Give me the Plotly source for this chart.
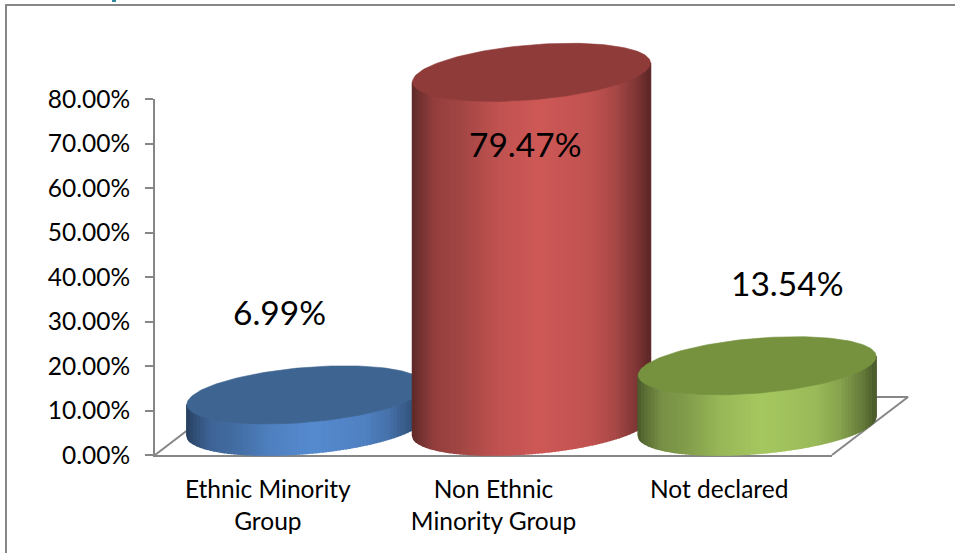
import numpy as np
import plotly.graph_objects as go

categories = ["Ethnic Minority<br>Group", "Non Ethnic<br>Minority Group", "Not declared"]
values = [6.99, 79.47, 13.54]
value_labels = ["6.99%", "79.47%", "13.54%"]
y_ticks = [0, 10, 20, 30, 40, 50, 60, 70, 80]
y_tick_labels = ["0.00%", "10.00%", "20.00%", "30.00%", "40.00%", "50.00%", "60.00%", "70.00%", "80.00%"]

W, H = 955, 553
FONT = "Lato"
GREY = "#868686"
X0, X1, Y0, Y1 = 155, 832, 455, 99
px_x = (X1 - X0) / 3
px_y = (Y0 - Y1) / 80
xc0 = X0 + px_x / 2

bright = [(86, 139, 208), (207, 89, 87), (166, 200, 96)]
top_col = ["#3e6491", "#8e3b39", "#76923f"]
stops_u = [0, 0.03, 0.10, 0.20, 0.35, 0.53, 0.75, 0.85, 0.95, 1]
stops_f = [0.45, 0.55, 0.72, 0.78, 0.92, 1.0, 0.93, 0.82, 0.60, 0.45]

dx = 38 / px_x
dy = 29 / px_y
half = 119 / px_x
shear = 9.5 / px_y
depth = 27.5 / px_y


def xrange2():
    return [(0 - xc0) / px_x, (W - xc0) / px_x]


def yrange2():
    return [(Y0 - H) / px_y, Y0 / px_y]


fig = go.Figure()
# anchor trace for the visible axes
fig.add_trace(go.Scatter(x=[0, 1, 2], y=values, mode="markers", marker=dict(opacity=0),
                         hoverinfo="skip", showlegend=False))

# floor
fx = [-0.5, -0.5 + 2 * dx, 2.5 + 2 * dx, 2.5]
fy = [0, 2 * dy, 2 * dy, 0]
fig.add_trace(go.Scatter(x=fx, y=fy, xaxis="x2", yaxis="y2", mode="lines",
                         line=dict(color=GREY, width=2), hoverinfo="skip", showlegend=False))


def cyl(i, v):
    cx = i + dx
    edges = np.linspace(-1, 1, 71)
    f = lambda u: np.sqrt(np.clip(1 - u * u, 0, 1))
    for a, b in zip(edges[:-1], edges[1:]):
        m = (a + b) / 2
        k = np.interp((m + 1) / 2, stops_u, stops_f)
        c = "rgb(%d,%d,%d)" % tuple(int(k * q) for q in bright[i])
        ua = np.linspace(a, b, 4)
        xs = cx + half * ua
        yt = v + dy + shear * ua - depth * f(ua)
        yb = dy + shear * ua - depth * f(ua)
        fig.add_trace(go.Scatter(
            x=list(xs) + list(xs[::-1]) + [xs[0]], y=list(yt) + list(yb[::-1]) + [yt[0]],
            xaxis="x2", yaxis="y2", mode="lines", fill="toself", fillcolor=c,
            line=dict(color=c, width=1.5), hoverinfo="skip", showlegend=False))
    t = np.linspace(0, 2 * np.pi, 181)
    fig.add_trace(go.Scatter(
        x=cx + half * np.cos(t), y=v + dy + shear * np.cos(t) + depth * np.sin(t),
        xaxis="x2", yaxis="y2", mode="lines", fill="toself", fillcolor=top_col[i],
        line=dict(color=top_col[i], width=0.6), hoverinfo="skip", showlegend=False))


for i in [0, 1, 2]:
    cyl(i, values[i])

label_x = [12 / px_x, 1 + 31 / px_x, 2 + 68 / px_x]
label_y = [32.2, 70.0, 38.6]
anns = [dict(x=x, y=y, xref="x2", yref="y2", text=t, showarrow=False,
             font=dict(family=FONT, size=33.5, color="black"))
        for x, y, t in zip(label_x, label_y, value_labels)]

fig.update_layout(
    width=W, height=H, autosize=False, margin=dict(l=0, r=0, t=0, b=0, autoexpand=False),
    paper_bgcolor="white", plot_bgcolor="rgba(0,0,0,0)", showlegend=False,
    font=dict(family=FONT, color="black"),
    xaxis=dict(domain=[X0 / W, X1 / W], range=[-0.5, 2.5], tickvals=[0, 1, 2], ticktext=categories,
               showgrid=False, zeroline=False, showline=True, linecolor=GREY, linewidth=2,
               ticks="", tickfont=dict(family=FONT, size=24.5, color="black"),
               ticklabelstandoff=12, anchor="y"),
    yaxis=dict(domain=[(H - Y0) / H, (H - Y1) / H], range=[0, 80], tickvals=y_ticks, ticktext=y_tick_labels,
               showgrid=False, zeroline=False, showline=True, linecolor=GREY, linewidth=2,
               ticks="outside", ticklen=8, tickwidth=2, tickcolor=GREY,
               tickfont=dict(family=FONT, size=24.5, color="black"),
               ticklabelstandoff=10, anchor="x"),
    xaxis2=dict(domain=[0, 1], range=xrange2(), visible=False, anchor="y2"),
    yaxis2=dict(domain=[0, 1], range=yrange2(), visible=False, anchor="x2"),
    annotations=anns,
    shapes=[dict(type="path", xref="paper", yref="paper",
                 path=f"M {6/W} 0 L {6/W} {(H-5)/H} L 1 {(H-5)/H}",
                 line=dict(color=GREY, width=2)),
            # sliver of the cropped heading that shows above the frame
            dict(type="rect", xref="paper", yref="paper", x0=112 / W, x1=116 / W,
                 y0=(H - 2) / H, y1=1, fillcolor="#31859c", line=dict(width=0))],
)
fig.write_html("out.html", config={"displayModeBar": False},
               post_script="document.body.style.margin='0';document.body.style.overflow='hidden';")
